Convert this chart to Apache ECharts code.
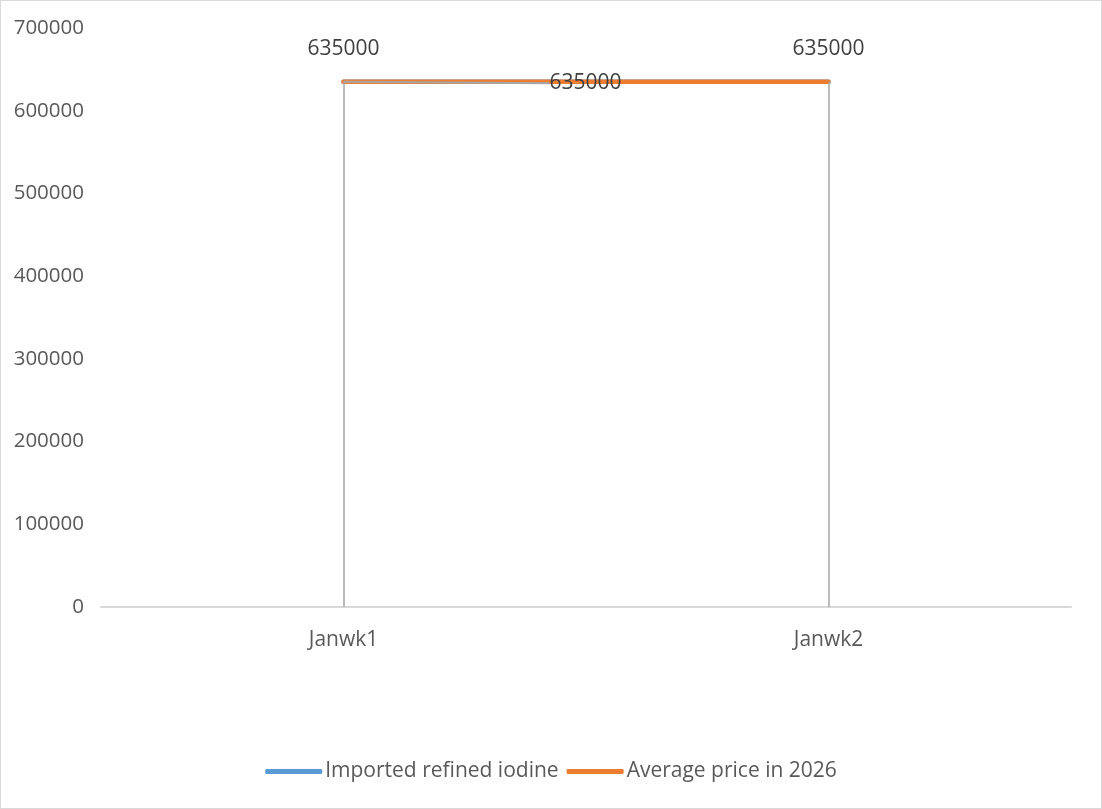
<!DOCTYPE html>
<html><head><meta charset="utf-8">
<script src="https://cdn.jsdelivr.net/npm/echarts@6/dist/echarts.min.js"></script>
<style>html,body{margin:0;padding:0;background:#fff}#c{width:1100px;height:807px;border:1px solid #d9d9d9}</style>
</head><body><div id="c"></div>
<script>
const categories = ['Janwk1', 'Janwk2'];
const importedIodine = [635000, 635000];
const avgPrice2026 = [635000, 635000];
const yTicks = [0, 100000, 200000, 300000, 400000, 500000, 600000, 700000];

const chart = echarts.init(document.getElementById('c'));
const font = 'Open Sans, Liberation Sans, sans-serif';
const drop = categories.map((c, i) => [{coord: [c, avgPrice2026[i]]}, {coord: [c, 0]}]);
const avgData = avgPrice2026.map((v, i) => i === 0 ? {value: v, labelLine: {show: true}} : {value: v});
chart.setOption({
  animation: false,
  textStyle: {fontFamily: font},
  grid: {left: 100, right: 30, top: 27, bottom: 201},
  legend: {
    bottom: 21, left: 'center', itemWidth: 57, itemHeight: 5, itemGap: 8,
    icon: 'roundRect',
    textStyle: {fontSize: 21, color: '#595959', fontFamily: font, padding: [0, 0, 0, -2]},
    data: ['Imported refined iodine', 'Average price in 2026']
  },
  xAxis: {
    type: 'category', data: categories, boundaryGap: true,
    axisLine: {lineStyle: {color: '#d9d9d9', width: 2}},
    axisTick: {show: false},
    axisLabel: {fontSize: 21, color: '#595959', margin: 23}
  },
  yAxis: {
    type: 'value', min: yTicks[0], max: yTicks[yTicks.length - 1], interval: 100000,
    splitLine: {show: false},
    axisLine: {show: false},
    axisLabel: {fontSize: 20.5, color: '#595959', margin: 17, formatter: v => String(v), padding: [9, 0, 0, 0]}
  },
  series: [
    {
      name: 'Imported refined iodine', type: 'line', data: importedIodine,
      symbol: 'circle', symbolSize: 0.1, showSymbol: true,
      lineStyle: {color: '#5b9bd5', width: 4.5, cap: 'round'},
      itemStyle: {color: '#5b9bd5'},
      label: {
        show: true, position: 'top', distance: 22, fontSize: 21, color: '#404040',
        formatter: p => p.dataIndex === 0 ? String(p.value) : ''
      },
      markLine: {
        symbol: 'none', silent: true, label: {show: false},
        lineStyle: {color: '#a6a6a6', width: 1.5, type: 'solid'},
        data: drop
      },
      z: 2
    },
    {
      name: 'Average price in 2026', type: 'line', data: avgData,
      symbol: 'circle', symbolSize: 0.1, showSymbol: true,
      lineStyle: {color: '#ed7d31', width: 4.5, cap: 'round'},
      itemStyle: {color: '#ed7d31'},
      label: {show: true, position: 'top', distance: 22, fontSize: 21, color: '#404040'},
      labelLine: {show: false, length2: 0, smooth: false, lineStyle: {color: '#a6a6a6', width: 2}},
      labelLayout: p => p.dataIndex === 0 ? {dx: 242, dy: 34} : {},
      z: 3
    }
  ]
});
</script></body></html>
